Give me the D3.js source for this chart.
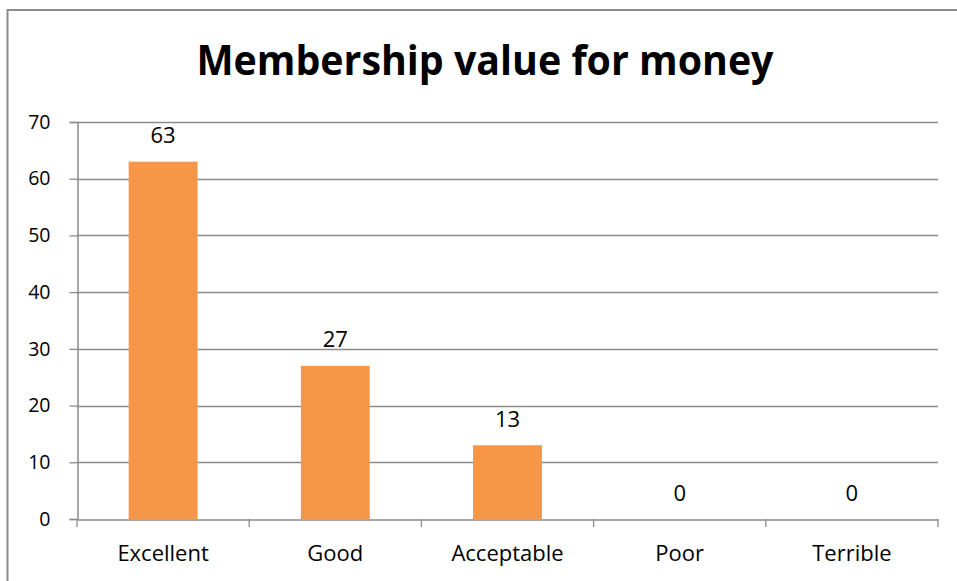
<!DOCTYPE html>
<html><head><meta charset="utf-8">
<script src="https://cdn.jsdelivr.net/npm/d3@7"></script>
<style>html,body{margin:0;padding:0;background:#fff;overflow:hidden}</style>
</head><body>
<svg id="c" width="957" height="581"></svg>
<script>
const title = "Membership value for money";
const categories = ["Excellent", "Good", "Acceptable", "Poor", "Terrible"];
const values = [63, 27, 13, 0, 0];
const yTicks = [0, 10, 20, 30, 40, 50, 60, 70];

const svg = d3.select("#c");
const font = "'Open Sans', sans-serif";
const grey = "#8c8c8c";

// outer frame (extends beyond the viewport right and bottom)
svg.append("rect").attr("x", 7.5).attr("y", 10).attr("width", 1000).attr("height", 700)
  .attr("fill", "none").attr("stroke", grey).attr("stroke-width", 2);

const x = d3.scaleBand().domain(categories).range([77, 938]).paddingInner(0).paddingOuter(0);
const y = d3.scaleLinear().domain([0, 70]).range([519, 122]);

// title
const t = svg.append("text").attr("x", 485).attr("y", 75).attr("text-anchor", "middle")
  .attr("font-family", font).attr("font-weight", "bold").attr("font-size", 42)
  .attr("fill", "#000").text(title);
t.attr("textLength", 577).attr("lengthAdjust", "spacingAndGlyphs");

// gridlines
svg.append("g").selectAll("line").data(yTicks.filter(d => d > 0)).join("line")
  .attr("x1", 77).attr("x2", 938).attr("y1", d => Math.round(y(d)) + 0.5).attr("y2", d => Math.round(y(d)) + 0.5)
  .attr("stroke", grey).attr("stroke-width", 1.3);

// y axis
const yAxis = svg.append("g").attr("transform", "translate(77.5,0)")
  .call(d3.axisLeft(y).tickValues(yTicks).tickSize(8).tickPadding(19));
yAxis.attr("font-size", null);
yAxis.select(".domain").attr("stroke", grey).attr("stroke-width", 1.5);
yAxis.selectAll(".tick line").attr("stroke", grey).attr("stroke-width", 1.3);
yAxis.selectAll(".tick text").attr("font-family", font).style("font-size", "19.5px").attr("fill", "#000");

// bars
svg.append("g").selectAll("rect").data(values).join("rect")
  .attr("x", (d, i) => x(categories[i]) + x.bandwidth() * 0.3)
  .attr("width", x.bandwidth() * 0.4)
  .attr("y", d => y(d))
  .attr("height", d => y(0) - y(d))
  .attr("fill", "#F79646");

// x axis
const xAxis = svg.append("g").attr("transform", "translate(0,519.5)")
  .call(d3.axisBottom(x).tickSize(0).tickPadding(0));
xAxis.select(".domain").attr("stroke", grey).attr("stroke-width", 1.5);
xAxis.selectAll(".tick text").attr("font-family", font).style("font-size", "22px").attr("fill", "#000")
  .attr("dy", null).attr("y", 41.5);
// boundary tick marks
const bounds = categories.map(c => x(c)).concat([x.range()[1]]);
svg.append("g").selectAll("line").data(bounds).join("line")
  .attr("x1", d => d).attr("x2", d => d).attr("y1", 519).attr("y2", 527)
  .attr("stroke", grey).attr("stroke-width", 1.3);

// data labels
svg.append("g").selectAll("text").data(values).join("text")
  .attr("x", (d, i) => x(categories[i]) + x.bandwidth() / 2)
  .attr("y", d => y(d) - 18.5)
  .attr("text-anchor", "middle").attr("font-family", font).attr("font-size", 22).attr("fill", "#000")
  .text(d => d);
</script>
</body></html>
